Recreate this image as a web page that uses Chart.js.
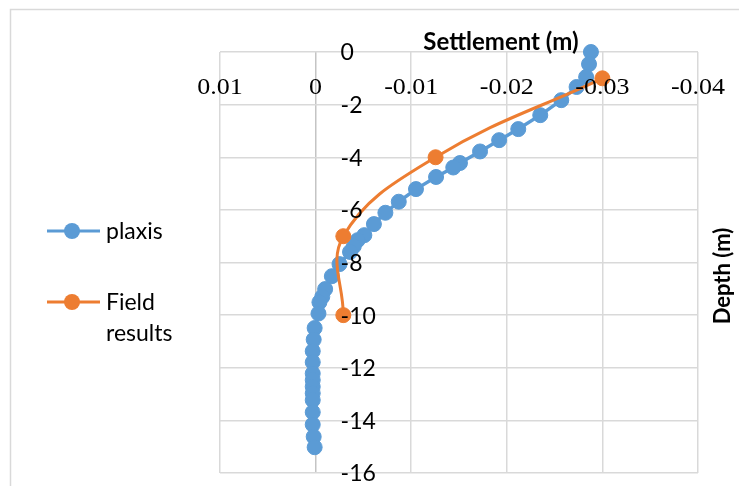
<!DOCTYPE html>
<html>
<head>
<meta charset="utf-8">
<script src="https://cdn.jsdelivr.net/npm/chart.js@4.4.1/dist/chart.umd.min.js"></script>
<style>
  html, body { margin: 0; padding: 0; background: #fff; }
  #wrap { position: relative; width: 739px; height: 486px; }
</style>
</head>
<body>
<div id="wrap"><canvas id="chart" width="739" height="486"></canvas></div>
<script>
// Settlement vs depth

var plaxisSettlement = [-0.0288, -0.0286, -0.0283, -0.0273, -0.0257, -0.0235, -0.0212, -0.0192, -0.0172, -0.0151,
  -0.0144, -0.0126, -0.0105, -0.0087, -0.0073, -0.0061, -0.0051, -0.0044, -0.0040, -0.0036,
  -0.0025, -0.0017, -0.0010, -0.0007, -0.0004, -0.0003, 0.0001, 0.0002, 0.0003, 0.0003,
  0.0003, 0.0003, 0.0003, 0.0003, 0.0003, 0.0003, 0.0003, 0.0002, 0.0001];
var plaxisDepth = [0, -0.46, -0.95, -1.33, -1.83, -2.40, -2.93, -3.35, -3.78, -4.22,
  -4.39, -4.75, -5.21, -5.69, -6.11, -6.54, -6.96, -7.15, -7.38, -7.60,
  -8.06, -8.52, -9.01, -9.30, -9.51, -9.94, -10.49, -10.93, -11.37, -11.79,
  -12.22, -12.47, -12.72, -12.97, -13.23, -13.69, -14.16, -14.62, -15.02];

var fieldSettlement = [-0.0300, -0.01255, -0.0029, -0.0029];
var fieldDepth = [-1, -4, -7, -10];

var settlementTicks = [0.01, 0, -0.01, -0.02, -0.03, -0.04];
var depthTicks = [0, -2, -4, -6, -8, -10, -12, -14, -16];

var blue = "#5B9BD5";
var orange = "#ED7D31";
var gridGrey = "#d9d9d9";

function toPoints(xs, ys) {
  var pts = [];
  for (var i = 0; i < xs.length; i++) {
    pts.push({ x: xs[i], y: ys[i] });
  }
  return pts;
}

function tickLabel(v) {
  // Excel style: -0.01, 0, 0.01
  if (v === 0) return "0";
  return v.toFixed(2);
}

// draws the chart frame, tick labels, axis titles and the legend
var decorations = {
  id: "decorations",
  beforeDraw: function(chart) {
    var ctx = chart.ctx;
    ctx.save();
    ctx.strokeStyle = gridGrey;
    ctx.lineWidth = 1.5;
    ctx.beginPath();
    ctx.moveTo(10.5, 487);
    ctx.lineTo(10.5, 9.5);
    ctx.lineTo(740, 9.5);
    ctx.stroke();
    ctx.restore();
  },
  afterDraw: function(chart) {
    var ctx = chart.ctx;
    var xs = chart.scales.x;
    var ys = chart.scales.y;
    ctx.save();
    ctx.fillStyle = "#000";

    // horizontal axis labels (serif, a bit wide like the original)
    ctx.font = "23px 'Liberation Serif'";
    ctx.textAlign = "center";
    ctx.textBaseline = "alphabetic";
    settlementTicks.forEach(function(v) {
      var px = xs.getPixelForValue(v);
      ctx.save();
      ctx.translate(px, 94);
      ctx.scale(1.13, 1);
      ctx.fillText(tickLabel(v), 0, 0);
      ctx.restore();
    });

    // vertical axis labels sit just right of the zero line
    var zeroX = xs.getPixelForValue(0);
    ctx.font = "23px Lato";
    ctx.textAlign = "left";
    ctx.textBaseline = "middle";
    depthTicks.forEach(function(v) {
      ctx.fillText(String(v), zeroX + 25, ys.getPixelForValue(v) + 1);
    });

    // axis titles
    ctx.textAlign = "center";
    ctx.textBaseline = "alphabetic";
    ctx.font = "bold 24px Lato";
    ctx.fillText("Settlement (m)", 501, 50);

    ctx.font = "bold 22px Lato";
    ctx.save();
    ctx.translate(730, 276);
    ctx.rotate(-Math.PI / 2);
    ctx.fillText("Depth (m)", 0, 0);
    ctx.restore();

    // legend
    var items = [
      { ds: chart.data.datasets[0], y: 231, lines: ["plaxis"] },
      { ds: chart.data.datasets[1], y: 302, lines: ["Field", "results"] }
    ];
    ctx.font = "23px Lato";
    ctx.textAlign = "left";
    items.forEach(function(it) {
      ctx.strokeStyle = it.ds.borderColor;
      ctx.lineWidth = 3;
      ctx.beginPath();
      ctx.moveTo(47, it.y);
      ctx.lineTo(100, it.y);
      ctx.stroke();
      ctx.fillStyle = it.ds.pointBackgroundColor;
      ctx.beginPath();
      ctx.arc(72, it.y, 8, 0, Math.PI * 2);
      ctx.fill();
      ctx.fillStyle = "#000";
      for (var i = 0; i < it.lines.length; i++) {
        ctx.fillText(it.lines[i], 106, it.y + 8 + i * 31);
      }
    });
    ctx.restore();
  }
};

function init() {
  var ctx = document.getElementById("chart").getContext("2d");
  var config = {
    type: "scatter",
    data: {
      datasets: [{
        label: "plaxis",
        data: toPoints(plaxisSettlement, plaxisDepth),
        showLine: true,
        borderColor: blue,
        backgroundColor: blue,
        pointBackgroundColor: blue,
        pointBorderColor: blue,
        borderWidth: 3.5,
        pointRadius: 7.5,
        pointBorderWidth: 1,
        tension: 0,
        clip: false,
        order: 2
      }, {
        label: "Field results",
        data: toPoints(fieldSettlement, fieldDepth),
        showLine: true,
        borderColor: orange,
        backgroundColor: orange,
        pointBackgroundColor: orange,
        pointBorderColor: orange,
        borderWidth: 3,
        pointRadius: 7.5,
        pointBorderWidth: 1,
        tension: 0.4,
        clip: false,
        order: 1
      }]
    },
    options: {
      responsive: false,
      animation: false,
      devicePixelRatio: 1,
      layout: { padding: { left: 220, right: 41, top: 52, bottom: 13 } },
      plugins: {
        legend: { display: false },
        tooltip: { enabled: false }
      },
      scales: {
        x: {
          type: "linear",
          position: "top",
          reverse: true,
          min: -0.04,
          max: 0.01,
          afterBuildTicks: function(scale) {
            scale.ticks = settlementTicks.map(function(v) { return { value: v }; });
          },
          ticks: { display: false },
          border: { display: false },
          grid: {
            color: function(c) { return c.tick && c.tick.value === 0 ? "#c4c4c4" : gridGrey; },
            lineWidth: 1.5,
            drawTicks: false
          }
        },
        y: {
          type: "linear",
          min: -16,
          max: 0,
          afterBuildTicks: function(scale) {
            scale.ticks = depthTicks.map(function(v) { return { value: v }; });
          },
          ticks: { display: false },
          border: { display: false },
          grid: { color: gridGrey, lineWidth: 1.5, drawTicks: false }
        }
      }
    },
    plugins: [decorations]
  };
  new Chart(ctx, config);
}; init();
</script>
</body>
</html>
